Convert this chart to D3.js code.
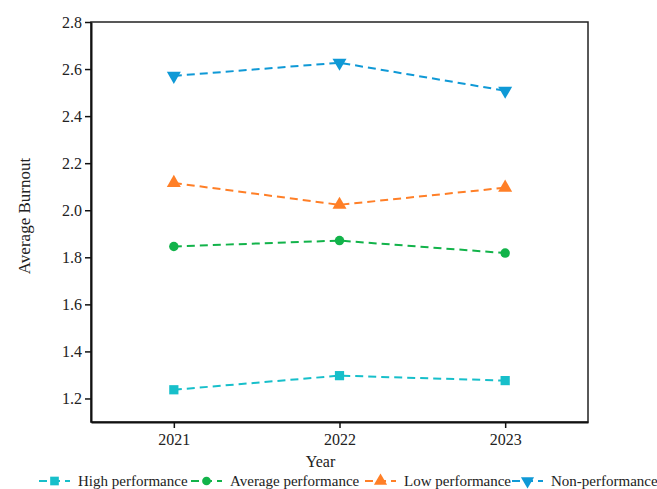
<!DOCTYPE html>
<html>
<head>
<meta charset="utf-8">
<script src="https://cdn.jsdelivr.net/npm/d3@7"></script>
<style>
  body { margin: 0; background: #fff; }
</style>
</head>
<body>
<svg id="chart" width="657" height="489"></svg>
<script>
const years = ['2021', '2022', '2023'];
const highPerformance = [1.237, 1.297, 1.276];
const averagePerformance = [1.846, 1.871, 1.818];
const lowPerformance = [2.116, 2.023, 2.096];
const nonPerformance = [2.571, 2.627, 2.508];
const yTicks = [1.2, 1.4, 1.6, 1.8, 2.0, 2.2, 2.4, 2.6, 2.8];

const serif = '"Liberation Serif", "DejaVu Serif", serif';

const series = [
    { name: 'High performance', values: highPerformance, color: '#17bfca', symbol: d3.symbolSquare, size: 85, rotate: 0 },
    { name: 'Average performance', values: averagePerformance, color: '#12b34a', symbol: d3.symbolCircle, size: 70, rotate: 0 },
    { name: 'Low performance', values: lowPerformance, color: '#ff7f27', symbol: d3.symbolTriangle, size: 85, rotate: 0 },
    { name: 'Non-performance', values: nonPerformance, color: '#0f99d6', symbol: d3.symbolTriangle, size: 85, rotate: 180 }
];

const margin = { top: 22, left: 91, bottom: 67, right: 69 };
const width = 657;
const height = 489;
const chartWidth = width - margin.left - margin.right;
const chartHeight = height - margin.top - margin.bottom;

const svg = d3.select('#chart');
const g = svg.append('g')
    .attr('transform', `translate(${[margin.left, margin.top]})`);

const x = d3.scalePoint()
    .domain(years)
    .range([0, chartWidth])
    .padding(0.5);

const y = d3.scaleLinear()
    .domain([1.1, 2.8])
    .range([chartHeight, 0]);

// frame
g.append('rect')
    .attr('width', chartWidth)
    .attr('height', chartHeight)
    .attr('fill', 'none')
    .attr('stroke', '#222')
    .attr('stroke-width', 1.5);

const yAxe = g.append('g')
    .call(d3.axisLeft(y).tickValues(yTicks).tickFormat(d3.format('.1f')).tickSize(6).tickSizeOuter(0));

const xAxe = g.append('g')
    .attr('transform', `translate(0, ${chartHeight})`)
    .call(d3.axisBottom(x).tickSize(6).tickSizeOuter(0));

[yAxe, xAxe].forEach(axe => {
    axe.attr('font-family', serif).attr('font-size', 16);
    axe.select('.domain').attr('stroke', '#111').attr('stroke-width', 2);
    axe.selectAll('.tick line').attr('stroke', '#111').attr('stroke-width', 1.5);
    axe.selectAll('.tick text')
        .attr('fill', '#222')
        .style('font-family', serif)
        .style('font-size', '16px');
});
yAxe.selectAll('.tick text').attr('x', -9);
xAxe.selectAll('.tick text').attr('y', 12);

g.append('text')
    .attr('x', chartWidth / 2 - 19)
    .attr('y', chartHeight + 45)
    .attr('text-anchor', 'middle')
    .attr('fill', '#222')
    .style('font-family', serif)
    .style('font-size', '16px')
    .text('Year');

g.append('text')
    .attr('transform', `translate(${-61}, ${chartHeight / 2 - 6}) rotate(-90)`)
    .attr('text-anchor', 'middle')
    .attr('fill', '#222')
    .style('font-family', serif)
    .style('font-size', '17px')
    .text('Average Burnout');

const line = d3.line()
    .x((d, i) => x(years[i]))
    .y(d => y(d));

series.forEach(s => {
    g.append('path')
        .datum(s.values)
        .attr('fill', 'none')
        .attr('stroke', s.color)
        .attr('stroke-width', 2)
        .attr('stroke-dasharray', '8,5')
        .attr('d', line);

    g.selectAll(null)
        .data(s.values)
        .enter()
        .append('path')
        .attr('d', d3.symbol().type(s.symbol).size(s.size))
        .attr('fill', s.color)
        .attr('transform', (d, i) => `translate(${[x(years[i]), y(d)]}) rotate(${s.rotate})`);
});

// legend
const legendX = [39, 191, 365, 512];
const legendY = 481;
const legend = svg.append('g');
series.forEach((s, i) => {
    const item = legend.append('g')
        .attr('transform', `translate(${[legendX[i], legendY]})`);
    item.append('line')
        .attr('x1', 0)
        .attr('x2', 31)
        .attr('stroke', s.color)
        .attr('stroke-width', 2)
        .attr('stroke-dasharray', '8,5');
    item.append('path')
        .attr('d', d3.symbol().type(s.symbol).size(s.size - 10))
        .attr('fill', s.color)
        .attr('transform', `translate(15.5, 0) rotate(${s.rotate})`);
    item.append('text')
        .attr('x', 39)
        .attr('y', 5)
        .attr('fill', '#222')
        .style('font-family', serif)
        .style('font-size', '15px')
        .text(s.name);
});
</script>
</body>
</html>
